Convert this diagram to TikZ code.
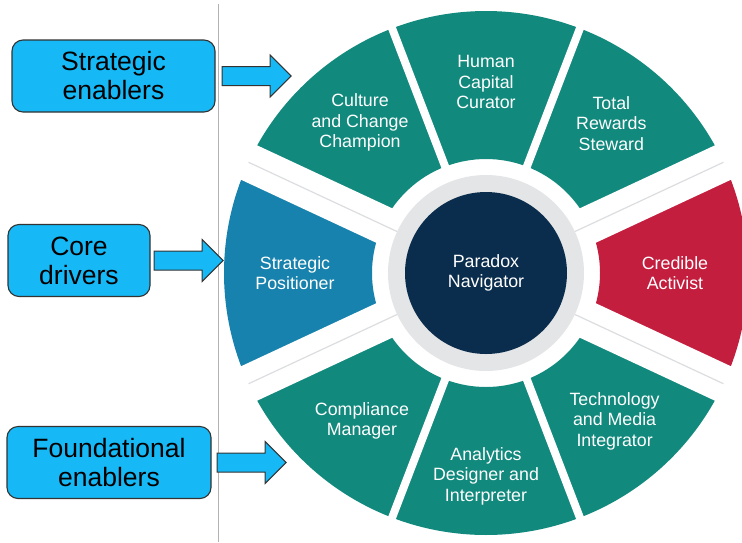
\documentclass[tikz,border=0pt]{standalone}
\usepackage{fontspec}
\setmainfont{Liberation Sans}
\usetikzlibrary{shapes.arrows,positioning,calc}

\definecolor{wheelteal}{HTML}{11897D}
\definecolor{wheelred}{HTML}{C41E3F}
\definecolor{wheelblue}{HTML}{1782AD}
\definecolor{wheelnavy}{HTML}{0B2D4D}
\definecolor{ringgray}{HTML}{E4E5E7}
\definecolor{gapgray}{HTML}{DCDDE0}
\definecolor{boxblue}{HTML}{16B8F5}

\begin{document}
\begin{tikzpicture}[x=1pt, y=1pt,
  groupbox/.style={draw=black!80, fill=boxblue, rounded corners=11pt, line width=1.1pt, minimum height=72pt, align=center, font=\fontsize{26.5}{29}\selectfont},
  blockarrow/.style={single arrow, draw=black!80, fill=boxblue, line width=1pt, minimum height=69pt, inner xsep=0pt, inner ysep=9pt, single arrow head extend=11.5pt, anchor=west},
  rolelabel/.style={text=white, align=center, font=\fontsize{17.8}{20.5}\selectfont}]
\useasboundingbox (0,0) rectangle (742,-542);
\clip (0,0) rectangle (742,-542);

% 分隔线
\draw[black!30, line width=0.8pt] (218,-4) -- (218,-542);

% 左侧分组框
\node[groupbox, minimum width=203pt] (strategic) at (113.5,-76) {Strategic\\enablers};
\node[groupbox, minimum width=142pt] (core) at (79,-260.5) {Core\\drivers};
\node[groupbox, minimum width=204pt] (foundational) at (109,-462.5) {Foundational\\enablers};

% 箭头
\node[blockarrow, right=6pt of strategic] (strategicarrow) {};
\node[blockarrow, right=3pt of core] (corearrow) {};
\node[blockarrow, right=5pt of foundational] (foundationalarrow) {};

\begin{scope}[shift={(486,-273)}]
% 外圈各段
\fill[wheelred] (-25:114) arc[start angle=-25, end angle=25, radius=114] -- (25:262) arc[start angle=25, end angle=-25, radius=262] -- cycle;
\fill[wheelteal] (25:114) arc[start angle=25, end angle=69, radius=114] -- (69:262) arc[start angle=69, end angle=25, radius=262] -- cycle;
\fill[wheelteal] (69:114) arc[start angle=69, end angle=111, radius=114] -- (111:262) arc[start angle=111, end angle=69, radius=262] -- cycle;
\fill[wheelteal] (111:114) arc[start angle=111, end angle=155, radius=114] -- (155:262) arc[start angle=155, end angle=111, radius=262] -- cycle;
\fill[wheelblue] (155:114) arc[start angle=155, end angle=205, radius=114] -- (205:262) arc[start angle=205, end angle=155, radius=262] -- cycle;
\fill[wheelteal] (205:114) arc[start angle=205, end angle=249, radius=114] -- (249:262) arc[start angle=249, end angle=205, radius=262] -- cycle;
\fill[wheelteal] (249:114) arc[start angle=249, end angle=291, radius=114] -- (291:262) arc[start angle=291, end angle=249, radius=262] -- cycle;
\fill[wheelteal] (291:114) arc[start angle=291, end angle=335, radius=114] -- (335:262) arc[start angle=335, end angle=291, radius=262] -- cycle;

% 段间空隙
\draw[white, line width=38pt] (0,0) -- (25:266);
\draw[white, line width=38pt] (0,0) -- (155:266);
\draw[white, line width=38pt] (0,0) -- (205:266);
\draw[white, line width=38pt] (0,0) -- (335:266);
\draw[white, line width=8pt] (0,0) -- (69:266);
\draw[white, line width=8pt] (0,0) -- (111:266);
\draw[white, line width=8pt] (0,0) -- (249:266);
\draw[white, line width=8pt] (0,0) -- (291:266);
\draw[gapgray, line width=1.2pt] (25:98) -- (25:262);
\draw[gapgray, line width=1.2pt] (155:98) -- (155:262);
\draw[gapgray, line width=1.2pt] (205:98) -- (205:262);
\draw[gapgray, line width=1.2pt] (335:98) -- (335:262);

% 中心
\fill[ringgray] (0,0) circle[radius=98];
\node[circle, fill=wheelnavy, minimum size=162pt, rolelabel] (navigator) at (0,0) {Paradox\\Navigator};

% 各角色
\node[rolelabel] (culture) at (130:196) {Culture\\and Change\\Champion};
\node[rolelabel] (curator) at (90:191) {Human\\Capital\\Curator};
\node[rolelabel] (steward) at (50:195) {Total\\Rewards\\Steward};
\node[rolelabel] (activist) at (0:189) {Credible\\Activist};
\node[rolelabel] (integrator) at (311:196) {Technology\\and Media\\Integrator};
\node[rolelabel] (analytics) at (270:203) {Analytics\\Designer and\\Interpreter};
\node[rolelabel] (compliance) at (230:193) {Compliance\\Manager};
\node[rolelabel] (positioner) at (180:191) {Strategic\\Positioner};
\end{scope}
\end{tikzpicture}
\end{document}
